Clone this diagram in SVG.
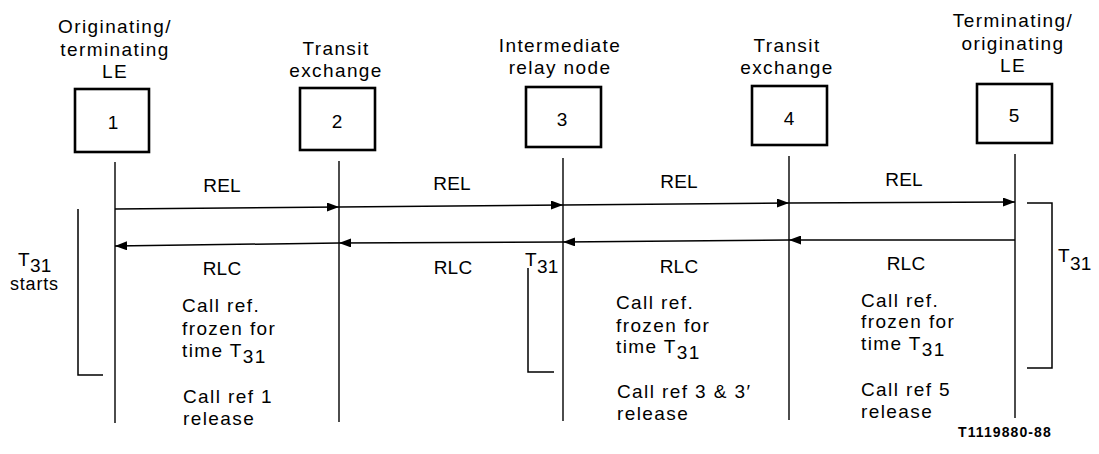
<svg xmlns="http://www.w3.org/2000/svg" width="1099" height="454" viewBox="0 0 1099 454">
<style>
text{font-family:"Liberation Sans",Arial,sans-serif;font-size:19px;fill:#000;letter-spacing:1.4px}
.c{text-anchor:middle}
.cap{letter-spacing:0.2px}
.num{font-size:19px;text-anchor:middle;letter-spacing:0}
.box{fill:#fff;stroke:#000;stroke-width:2.6}
.life{stroke:#000;stroke-width:1.4;fill:none}
.msg{stroke:#000;stroke-width:1.5;fill:none;marker-end:url(#ah)}
.br{stroke:#000;stroke-width:1.5;fill:none}
.code{font-size:14px;font-weight:bold;letter-spacing:1.1px}
</style>
<defs>
<marker id="ah" markerUnits="userSpaceOnUse" markerWidth="13" markerHeight="9" refX="12" refY="4.5" orient="auto">
<path d="M0,0 L12,4.5 L0,9 z" fill="#000"/>
</marker>
</defs>
<g id="node1">
<text class="c" x="115" y="33">Originating/</text>
<text class="c" x="115" y="56">terminating</text>
<text class="c" x="115" y="78">LE</text>
<rect class="box" x="75" y="89" width="74" height="63"/>
<text class="num" x="113" y="129">1</text>
<line class="life" x1="115" y1="162" x2="115" y2="423"/>
</g>
<g id="node2">
<text class="c" x="336" y="55">Transit</text>
<text class="c" x="336" y="77">exchange</text>
<rect class="box" x="300" y="88" width="75" height="62"/>
<text class="num" x="337" y="128">2</text>
<line class="life" x1="339" y1="161" x2="339" y2="422"/>
</g>
<g id="node3">
<text class="c" x="560" y="52">Intermediate</text>
<text class="c" x="560" y="74">relay node</text>
<rect class="box" x="526" y="87" width="75" height="60"/>
<text class="num" x="562" y="126">3</text>
<line class="life" x1="563" y1="158" x2="563" y2="421"/>
</g>
<g id="node4">
<text class="c" x="787" y="52">Transit</text>
<text class="c" x="787" y="74">exchange</text>
<rect class="box" x="752" y="86" width="75" height="59"/>
<text class="num" x="789" y="125">4</text>
<line class="life" x1="789" y1="156" x2="789" y2="420"/>
</g>
<g id="node5">
<text class="c" x="1013" y="27">Terminating/</text>
<text class="c" x="1013" y="50">originating</text>
<text class="c" x="1013" y="72">LE</text>
<rect class="box" x="977" y="84" width="75" height="59"/>
<text class="num" x="1014" y="122">5</text>
<line class="life" x1="1015" y1="154" x2="1015" y2="418"/>
</g>
<g id="connectors">
<line class="msg" x1="115" y1="209" x2="339" y2="207"/>
<line class="msg" x1="339" y1="207" x2="563" y2="205"/>
<line class="msg" x1="563" y1="205" x2="789" y2="203"/>
<line class="msg" x1="789" y1="203" x2="1015" y2="202"/>
<line class="msg" x1="1015" y1="240" x2="789" y2="240"/>
<line class="msg" x1="789" y1="240" x2="563" y2="242"/>
<line class="msg" x1="563" y1="242" x2="339" y2="243"/>
<line class="msg" x1="339" y1="243" x2="115" y2="246"/>
<text class="c cap" x="222" y="192">REL</text>
<text class="c cap" x="452" y="190">REL</text>
<text class="c cap" x="679" y="188">REL</text>
<text class="c cap" x="904" y="186">REL</text>
<text class="c cap" x="222" y="275">RLC</text>
<text class="c cap" x="453" y="274">RLC</text>
<text class="c cap" x="679" y="273">RLC</text>
<text class="c cap" x="906" y="270">RLC</text>
</g>
<g id="notes">
<text x="182" y="312">Call ref.</text>
<text x="182" y="335">frozen for</text>
<text x="182" y="357">time T<tspan dy="6">31</tspan></text>
<text x="183" y="403">Call ref 1</text>
<text x="183" y="425">release</text>
<text x="616" y="309">Call ref.</text>
<text x="616" y="332">frozen for</text>
<text x="616" y="353">time T<tspan dy="6">31</tspan></text>
<text x="617" y="398">Call ref 3 &amp; 3′</text>
<text x="617" y="420">release</text>
<text x="861" y="307">Call ref.</text>
<text x="861" y="328">frozen for</text>
<text x="861" y="350">time T<tspan dy="6">31</tspan></text>
<text x="861" y="396">Call ref 5</text>
<text x="861" y="418">release</text>
</g>
<g id="timers">
<polyline class="br" points="78,209 78,375 103,375"/>
<text x="18" y="266" style="letter-spacing:0.3px">T<tspan dy="6">31</tspan></text>
<text x="10" y="290" style="font-size:18px;letter-spacing:0.8px">starts</text>
<polyline class="br" points="528,268 528,372 554,372"/>
<text x="525" y="266" style="letter-spacing:0.3px">T<tspan dy="7">31</tspan></text>
<polyline class="br" points="1027,203 1052,203 1052,368 1027,368"/>
<text x="1058" y="262" style="letter-spacing:0.3px">T<tspan dy="8">31</tspan></text>
<text class="code" x="958" y="437">T1119880-88</text>
</g>
</svg>
